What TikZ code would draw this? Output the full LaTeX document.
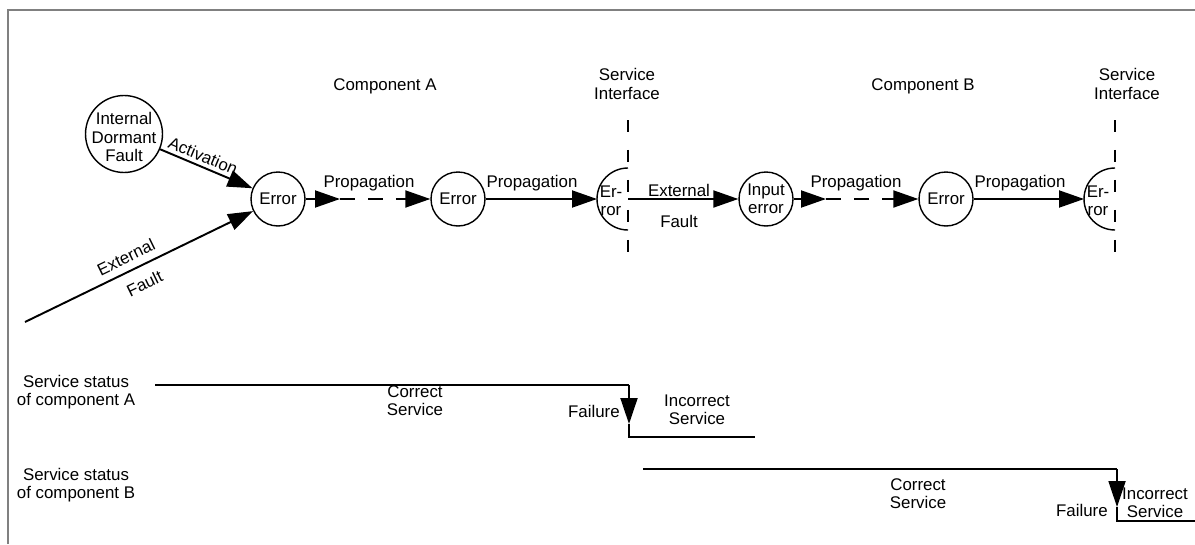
\documentclass[tikz,border=0pt]{standalone}
\usepackage{fontspec}
\setmainfont{Liberation Sans}
\usetikzlibrary{arrows.meta}
\begin{document}
\begin{tikzpicture}[x=0.02cm,y=-0.02cm,
  every node/.style={font=\fontsize{9.6}{10.4}\selectfont, align=center, inner sep=0pt},
  circ/.style={draw, circle, line width=0.8pt, minimum size=1.08cm},
  conn/.style={line width=1.1pt, -{Triangle[length=0.5cm,width=0.34cm]}},
  dconn/.style={line width=1.1pt, dash pattern=on 0.3cm off 0.26cm, -{Triangle[length=0.5cm,width=0.34cm]}},
  stat/.style={line width=1.1pt},
  ftip/.style={line width=1.1pt, -{Triangle[length=0.52cm,width=0.34cm]}},
  iface/.style={line width=1.1pt, dash pattern=on 0.24cm off 0.36cm},
  halfc/.style={line width=0.8pt},
  frameline/.style={draw=gray, line width=1.1pt}]
\useasboundingbox (0,0) rectangle (1195,544);
\draw[frameline] (8,544) -- (8,10) -- (1195,10);

% titles
\node (compA) at (385,86) {Component A};
\node (compB) at (923,86) {Component B};
\node (siA) at (627,84) {Service\\Interface};
\node (siB) at (1127,84) {Service\\Interface};

% interfaces
\coordinate (iAt) at (628,120);
\coordinate (iAb) at (628,256);
\coordinate (iBt) at (1115,120);
\coordinate (iBb) at (1115,256);
\draw[iface] (iAt) -- (iAb);
\draw[iface] (iBt) -- (iBb);

% circles
\node[circ, minimum size=1.54cm] (idf) at (124,134) {};
\node (idft) at (124,137) {Internal\\Dormant\\Fault};
\node[circ] (e1) at (278,199) {Error};
\node[circ] (e2) at (458,199) {Error};
\node[circ] (ie) at (766,199) {Input\\error};
\node[circ] (e3) at (946,199) {Error};

% half circles
\coordinate (hAc) at (628,199);
\coordinate (hBc) at (1115,199);
\draw[halfc] (628,168) arc[start angle=270, end angle=90, radius=31];
\draw[halfc] (1115,168) arc[start angle=270, end angle=90, radius=31];
\coordinate (hAin) at (597,199);
\coordinate (hBin) at (1084,199);
\node (hAt) at (611,201) {Er-\\ror};
\node (hBt) at (1098,201) {Er-\\ror};

% external fault source
\coordinate (ext0) at (25,322);
\draw[conn] (ext0) -- (e1) node[pos=0.47, sloped, above=4pt] {External} node[pos=0.49, sloped, below=6pt] {Fault};
\draw[conn] (idf) -- (e1) node[pos=0.42, sloped, above=2pt] {Activation};

% propagation chain A
\coordinate (pA1) at (340,199);
\draw[conn] (e1) -- (pA1);
\draw[dconn] (pA1) -- (e2);
\node (propA1) at (369,183) {Propagation};
\draw[conn] (e2) -- (hAin);
\node (propA2) at (532,183) {Propagation};

% external fault to B
\draw[conn] (hAc) -- (ie);
\node (extB) at (679,190) {External};
\node (fltB) at (679,221) {Fault};

% propagation chain B
\coordinate (pB1) at (826,199);
\draw[conn] (ie) -- (pB1);
\draw[dconn] (pB1) -- (e3);
\node (propB1) at (856,183) {Propagation};
\draw[conn] (e3) -- (hBin);
\node (propB2) at (1020,183) {Propagation};

% service status A
\node (ssA) at (76,392) {Service status\\of component A};
\coordinate (a0) at (155,385);
\coordinate (a1) at (629,385);
\coordinate (a2) at (629,424);
\coordinate (a3) at (629,437);
\coordinate (a4) at (755,437);
\draw[stat] (a0) -- (a1);
\draw[ftip] (a1) -- (a2);
\draw[stat] (a2) -- (a3) -- (a4);
\node (csA) at (415,401) {Correct\\Service};
\node[anchor=east] (fA) at (620,411) {Failure};
\node (isA) at (697,410) {Incorrect\\Service};

% service status B
\node (ssB) at (76,485) {Service status\\of component B};
\coordinate (b0) at (643,469);
\coordinate (b1) at (1117,469);
\coordinate (b2) at (1117,507);
\coordinate (b3) at (1117,521);
\coordinate (b4) at (1195,521);
\draw[stat] (b0) -- (b1);
\draw[ftip] (b1) -- (b2);
\draw[stat] (b2) -- (b3) -- (b4);
\node (csB) at (918,494) {Correct\\Service};
\node[anchor=east] (fB) at (1108,510) {Failure};
\node (isB) at (1155,503) {Incorrect\\Service};
\end{tikzpicture}
\end{document}
